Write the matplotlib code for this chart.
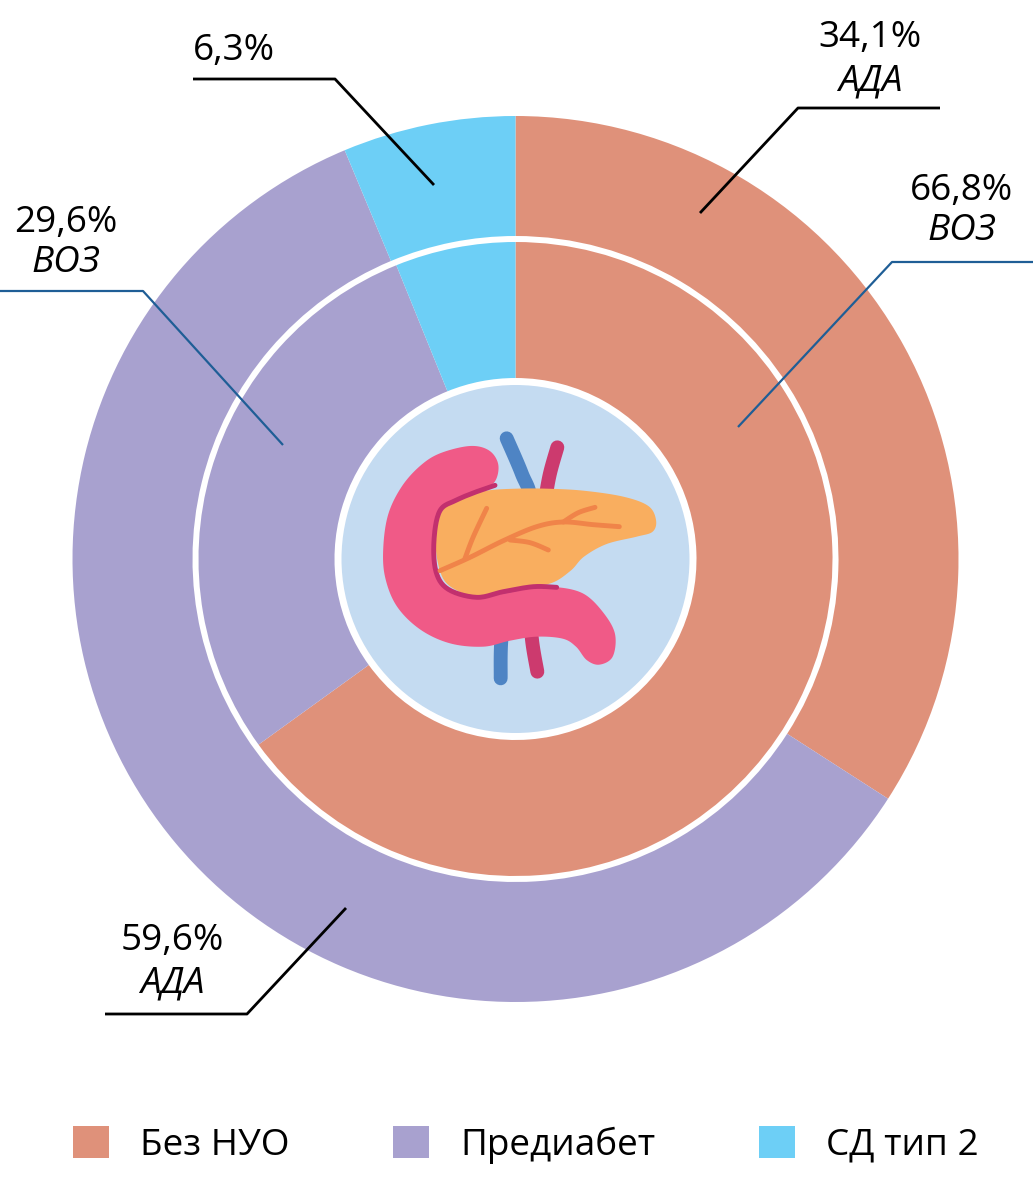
import numpy as np
import matplotlib
matplotlib.use("Agg")
import matplotlib.pyplot as plt
from matplotlib.patches import Polygon, Circle, Patch

plt.rcParams['font.family'] = ['Open Sans', 'DejaVu Sans']

# ---------------- data ----------------
categories = ["Без НУО", "Предиабет", "СД тип 2"]
ada_values = [34.1, 59.6, 6.3]      # outer ring (АДА)
who_values = [66.8, 29.6, 6.3]      # inner ring (ВОЗ)
colors = ["#DF917A", "#A8A1CF", "#6DCFF6"]

W, H = 1033, 1177
fig = plt.figure(figsize=(W / 100, H / 100), dpi=100)
ax = fig.add_axes([0, 0, 1, 1])

def Y(y):
    return H - y

cx, cy = 515.5, Y(559)

ax.pie(ada_values, radius=443, center=(cx, cy), startangle=90, counterclock=False,
       colors=colors, wedgeprops=dict(width=443 - 323, linewidth=0))
ax.pie(who_values, radius=317, center=(cx, cy), startangle=90, counterclock=False,
       colors=colors, wedgeprops=dict(width=317 - 181, linewidth=0))
ax.add_patch(Circle((cx, cy), 174, facecolor="#C4DBF1", edgecolor="none", zorder=3))

# ---------------- pancreas icon ----------------
def P(zx, zy):
    return (330 + zx / 3, Y(360 + zy / 3))

def catmull(pts, n=14, closed=True):
    pts = np.array(pts, dtype=float)
    if closed:
        ext = np.vstack([pts[-1:], pts, pts[:2]])
        segs = len(pts)
    else:
        ext = np.vstack([pts[:1], pts, pts[-1:]])
        segs = len(pts) - 1
    out = []
    for i in range(segs):
        p0, p1, p2, p3 = ext[i], ext[i + 1], ext[i + 2], ext[i + 3]
        for t in np.linspace(0, 1, n, endpoint=False):
            out.append(0.5 * ((2 * p1) + (-p0 + p2) * t + (2 * p0 - 5 * p1 + 4 * p2 - p3) * t ** 2
                              + (-p0 + 3 * p1 - 3 * p2 + p3) * t ** 3))
    if not closed:
        out.append(ext[-2])
    return np.array(out)

def line(zpts, color, lw, z):
    pts = catmull([P(*p) for p in zpts], closed=False)
    ax.plot(pts[:, 0], pts[:, 1], color=color, lw=lw, solid_capstyle="round",
            solid_joinstyle="round", zorder=z)

# vessels (behind)
line([(530, 235), (575, 340), (600, 420), (570, 560), (540, 700), (515, 830), (512, 955)],
     "#4E84C4", 10, 4)
line([(682, 262), (660, 340), (645, 420), (620, 560), (600, 700), (605, 830), (622, 935)],
     "#CC3A6E", 10, 4)

pink = [(330, 280), (420, 258), (478, 272), (505, 315), (492, 368), (440, 392), (378, 420),
        (332, 445), (316, 500), (314, 565), (322, 625), (342, 672), (385, 700), (445, 712),
        (525, 700), (605, 685), (685, 682), (762, 702), (820, 758), (855, 822), (848, 890),
        (808, 914), (770, 900), (738, 860), (698, 836), (620, 830), (540, 842), (460, 860),
        (360, 850), (270, 808), (200, 738), (165, 650), (160, 560), (175, 462), (215, 380),
        (270, 318)]
ax.add_patch(Polygon(catmull([P(*p) for p in pink]), closed=True, facecolor="#F05A87",
                     edgecolor="none", zorder=5))

orange = [(335, 450), (400, 412), (470, 392), (560, 386), (650, 386), (760, 392), (880, 410),
          (955, 438), (978, 480), (968, 515), (920, 530), (830, 552), (762, 590), (722, 632),
          (662, 670), (572, 682), (502, 700), (442, 712), (382, 692), (342, 660), (322, 600),
          (316, 530), (322, 482)]
ax.add_patch(Polygon(catmull([P(*p) for p in orange]), closed=True, facecolor="#F9AE5F",
                     edgecolor="none", zorder=6))

line([(495, 376), (440, 395), (380, 420), (330, 452), (312, 540), (318, 635), (355, 688),
      (440, 712), (520, 695), (610, 680), (680, 682)], "#C2306E", 3.5, 7)

# inner veins of the pancreas
line([(330, 632), (420, 592), (520, 542), (620, 500), (700, 486), (790, 494), (868, 500)],
     "#F08449", 3.5, 8)
line([(700, 486), (745, 458), (795, 442)], "#F08449", 3.5, 8)
line([(405, 595), (430, 530), (470, 445)], "#F08449", 3.5, 8)
line([(540, 540), (600, 548), (655, 570)], "#F08449", 3.5, 8)

# ---------------- annotations ----------------
FS = 26.6
black_lw, blue_lw = 2.0, 1.6
blue = "#1F5E96"

def leader(pts, color, lw):
    xs = [p[0] for p in pts]
    ys = [Y(p[1]) for p in pts]
    ax.plot(xs, ys, color=color, lw=lw, solid_capstyle="butt", zorder=10)

def label(x, y1, pct, name, y2):
    ax.text(x, Y(y1), pct, ha="center", va="baseline", fontsize=FS, zorder=11)
    if name:
        ax.text(x, Y(y2), name, ha="center", va="baseline", fontsize=FS, style="italic", zorder=11)

fmt = lambda v: f"{v:.1f}".replace(".", ",") + "%"

# outer АДА
label(870, 47, fmt(ada_values[0]), "АДА", 90)
leader([(940, 108), (798, 108), (700, 213)], "black", black_lw)

label(172, 950, fmt(ada_values[1]), "АДА", 992)
leader([(105, 1014), (247, 1014), (346, 908)], "black", black_lw)

label(234, 60, fmt(ada_values[2]), None, None)
leader([(193, 79), (335, 79), (434, 185)], "black", black_lw)

# inner ВОЗ
label(962, 200, fmt(who_values[0]), "ВОЗ", 240)
leader([(1033, 262), (892, 262), (738, 427)], blue, blue_lw)

label(66, 232, fmt(who_values[1]), "ВОЗ", 272)
leader([(0, 291), (143, 291), (283, 445)], blue, blue_lw)

# ---------------- legend ----------------
handles = [Patch(facecolor=c, edgecolor="none") for c in colors]
ax.legend(handles, categories, loc="center left", bbox_to_anchor=(73, Y(1145)),
          bbox_transform=ax.transData, ncol=3, frameon=False, fontsize=FS,
          handlelength=0.98, handleheight=0.95, handletextpad=0.84, columnspacing=2.8,
          borderpad=0, borderaxespad=0)

ax.set_xlim(0, W)
ax.set_ylim(0, H)
ax.set_aspect("auto")
ax.axis("off")
fig.savefig("out.png", dpi=100)
